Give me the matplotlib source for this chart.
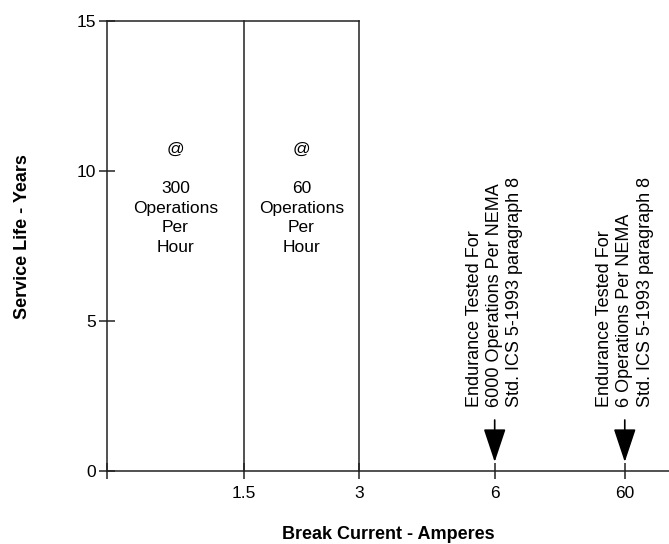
import matplotlib
matplotlib.use("Agg")
import matplotlib.pyplot as plt

plt.rcParams['font.family'] = ['Liberation Sans', 'DejaVu Sans']

# Data
x_tick_labels = ["1.5", "3", "6", "60"]
x_positions = [1.05, 1.94, 2.98, 3.98]   # category positions along the axis
y_ticks = [0, 5, 10, 15]
service_life_max = 15
band_labels = ["@\n\n300\nOperations\nPer\nHour", "@\n\n60\nOperations\nPer\nHour"]
endurance_labels = [
    "Endurance Tested For\n6000 Operations Per NEMA\nStd. ICS 5-1993 paragraph 8",
    "Endurance Tested For\n6 Operations Per NEMA\nStd. ICS 5-1993 paragraph 8",
]

fig = plt.figure(figsize=(6.69, 5.44), dpi=100)
ax = fig.add_axes([0.16, 0.1342, 0.84, 0.8272])

ax.set_xlim(0, 4.32)
ax.set_ylim(0, service_life_max)

for s in ['top', 'right']:
    ax.spines[s].set_visible(False)
for s in ['left', 'bottom']:
    ax.spines[s].set_linewidth(1.1)
    ax.spines[s].set_color('#222222')

# box lines for the operation bands
edges = [0] + x_positions[:2]
for xe in x_positions[:2]:
    ax.plot([xe, xe], [0, service_life_max], color='#222222', lw=1.1, clip_on=False)
ax.plot([0, x_positions[1]], [service_life_max, service_life_max], color='#222222', lw=1.1, clip_on=False)

ax.set_xticks([0] + x_positions)
ax.set_xticklabels([""] + x_tick_labels, fontsize=12.5)
ax.set_yticks(y_ticks)
ax.set_yticklabels([str(v) for v in y_ticks], fontsize=12.5)
ax.tick_params(axis='both', direction='inout', length=12, width=1.1, color='#222222')
ax.tick_params(axis='x', pad=5)
ax.tick_params(axis='y', pad=2)

# band texts
for i, lab in enumerate(band_labels):
    xc = (edges[i] + edges[i + 1]) / 2
    ax.text(xc, 9.08, lab, ha='center', va='center', fontsize=12.5, linespacing=1.38)

# endurance annotations
for xp, lab in zip(x_positions[2:], endurance_labels):
    ax.text(xp, 2.13, lab, rotation=90, ha='center', va='bottom', fontsize=13,
            multialignment='left', linespacing=1.25)
    ax.annotate('', xy=(xp, 0.3), xytext=(xp, 1.7),
                arrowprops=dict(arrowstyle='-|>,head_length=1.5,head_width=0.5',
                                color='black', lw=1.2, shrinkA=0, shrinkB=0,
                                mutation_scale=14))

ax.set_ylabel("Service Life - Years", fontsize=13, fontweight='bold')
ax.yaxis.set_label_coords(-0.135, 0.522)
ax.set_xlabel("Break Current - Amperes", fontsize=13, fontweight='bold', labelpad=18)

fig.savefig("out.png", dpi=100)
